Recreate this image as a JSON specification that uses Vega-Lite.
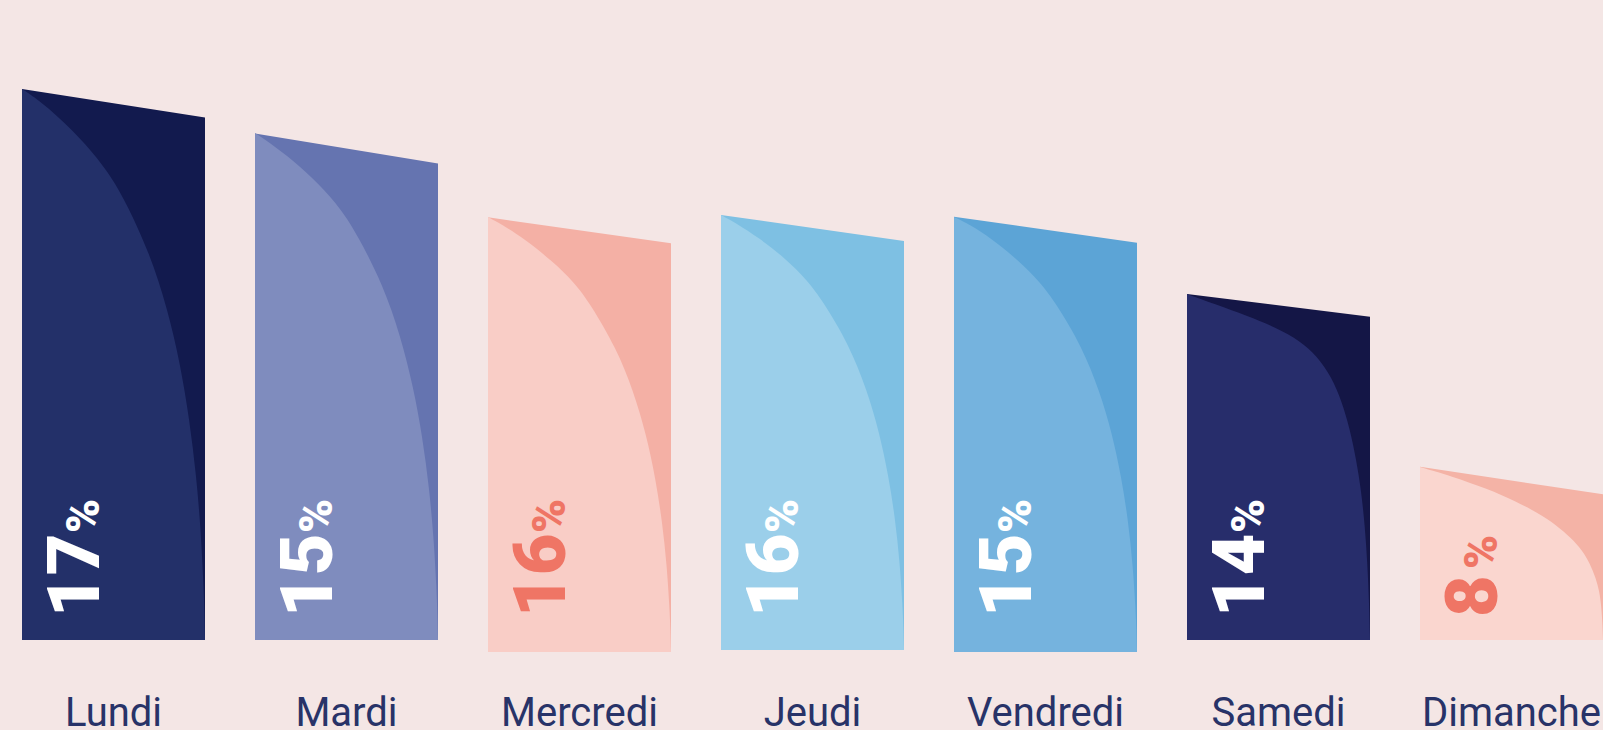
{
  "$schema": "https://vega.github.io/schema/vega-lite/v6.json",
  "background": "#f4e6e5",
  "padding": {"left": 22, "right": 0, "top": 0, "bottom": 0},
  "config": {"view": {"stroke": null}},
  "data": {"values": [
    {"day":"Lundi","part":"top","t":0,"h":551,"base":0},
    {"day":"Lundi","part":"top","t":1,"h":522.5,"base":0},
    {"day":"Mardi","part":"top","t":0,"h":506.6,"base":0},
    {"day":"Mardi","part":"top","t":1,"h":476.5,"base":0},
    {"day":"Mercredi","part":"top","t":0,"h":422.7,"base":-12},
    {"day":"Mercredi","part":"top","t":1,"h":396.7,"base":-12},
    {"day":"Jeudi","part":"top","t":0,"h":425,"base":-10},
    {"day":"Jeudi","part":"top","t":1,"h":399,"base":-10},
    {"day":"Vendredi","part":"top","t":0,"h":423.3,"base":-12},
    {"day":"Vendredi","part":"top","t":1,"h":397.3,"base":-12},
    {"day":"Samedi","part":"top","t":0,"h":346,"base":0},
    {"day":"Samedi","part":"top","t":1,"h":323.3,"base":0},
    {"day":"Dimanche","part":"top","t":0,"h":173.3,"base":0},
    {"day":"Dimanche","part":"top","t":1,"h":145.7,"base":0},

    {"day":"Lundi","part":"curve","t":0,"h":551,"base":0},
    {"day":"Lundi","part":"curve","t":0.09,"h":540,"base":0},
    {"day":"Lundi","part":"curve","t":0.2,"h":523,"base":0},
    {"day":"Lundi","part":"curve","t":0.35,"h":496,"base":0},
    {"day":"Lundi","part":"curve","t":0.47,"h":468,"base":0},
    {"day":"Lundi","part":"curve","t":0.56,"h":441,"base":0},
    {"day":"Lundi","part":"curve","t":0.7,"h":386,"base":0},
    {"day":"Lundi","part":"curve","t":0.795,"h":331,"base":0},
    {"day":"Lundi","part":"curve","t":0.865,"h":276,"base":0},
    {"day":"Lundi","part":"curve","t":0.915,"h":220,"base":0},
    {"day":"Lundi","part":"curve","t":0.952,"h":165,"base":0},
    {"day":"Lundi","part":"curve","t":0.977,"h":110,"base":0},
    {"day":"Lundi","part":"curve","t":0.992,"h":55,"base":0},
    {"day":"Lundi","part":"curve","t":0.997,"h":28,"base":0},
    {"day":"Lundi","part":"curve","t":1,"h":0,"base":0},

    {"day":"Mardi","part":"curve","t":0,"h":507,"base":0},
    {"day":"Mardi","part":"curve","t":0.09,"h":496,"base":0},
    {"day":"Mardi","part":"curve","t":0.2,"h":481,"base":0},
    {"day":"Mardi","part":"curve","t":0.35,"h":456,"base":0},
    {"day":"Mardi","part":"curve","t":0.47,"h":431,"base":0},
    {"day":"Mardi","part":"curve","t":0.56,"h":405,"base":0},
    {"day":"Mardi","part":"curve","t":0.7,"h":355,"base":0},
    {"day":"Mardi","part":"curve","t":0.795,"h":304,"base":0},
    {"day":"Mardi","part":"curve","t":0.865,"h":253,"base":0},
    {"day":"Mardi","part":"curve","t":0.915,"h":203,"base":0},
    {"day":"Mardi","part":"curve","t":0.952,"h":152,"base":0},
    {"day":"Mardi","part":"curve","t":0.977,"h":101,"base":0},
    {"day":"Mardi","part":"curve","t":0.992,"h":51,"base":0},
    {"day":"Mardi","part":"curve","t":0.997,"h":25,"base":0},
    {"day":"Mardi","part":"curve","t":1,"h":0,"base":0},

    {"day":"Mercredi","part":"curve","t":0,"h":423,"base":-12},
    {"day":"Mercredi","part":"curve","t":0.09,"h":414,"base":-12},
    {"day":"Mercredi","part":"curve","t":0.2,"h":401,"base":-12},
    {"day":"Mercredi","part":"curve","t":0.35,"h":379,"base":-12},
    {"day":"Mercredi","part":"curve","t":0.47,"h":358,"base":-12},
    {"day":"Mercredi","part":"curve","t":0.56,"h":336,"base":-12},
    {"day":"Mercredi","part":"curve","t":0.7,"h":292,"base":-12},
    {"day":"Mercredi","part":"curve","t":0.795,"h":249,"base":-12},
    {"day":"Mercredi","part":"curve","t":0.865,"h":205,"base":-12},
    {"day":"Mercredi","part":"curve","t":0.915,"h":162,"base":-12},
    {"day":"Mercredi","part":"curve","t":0.952,"h":118,"base":-12},
    {"day":"Mercredi","part":"curve","t":0.977,"h":75,"base":-12},
    {"day":"Mercredi","part":"curve","t":0.992,"h":32,"base":-12},
    {"day":"Mercredi","part":"curve","t":0.997,"h":10,"base":-12},
    {"day":"Mercredi","part":"curve","t":1,"h":-12,"base":-12},

    {"day":"Jeudi","part":"curve","t":0,"h":425,"base":-10},
    {"day":"Jeudi","part":"curve","t":0.09,"h":416,"base":-10},
    {"day":"Jeudi","part":"curve","t":0.2,"h":403,"base":-10},
    {"day":"Jeudi","part":"curve","t":0.35,"h":382,"base":-10},
    {"day":"Jeudi","part":"curve","t":0.47,"h":360,"base":-10},
    {"day":"Jeudi","part":"curve","t":0.56,"h":338,"base":-10},
    {"day":"Jeudi","part":"curve","t":0.7,"h":295,"base":-10},
    {"day":"Jeudi","part":"curve","t":0.795,"h":251,"base":-10},
    {"day":"Jeudi","part":"curve","t":0.865,"h":208,"base":-10},
    {"day":"Jeudi","part":"curve","t":0.915,"h":164,"base":-10},
    {"day":"Jeudi","part":"curve","t":0.952,"h":121,"base":-10},
    {"day":"Jeudi","part":"curve","t":0.977,"h":77,"base":-10},
    {"day":"Jeudi","part":"curve","t":0.992,"h":34,"base":-10},
    {"day":"Jeudi","part":"curve","t":0.997,"h":12,"base":-10},
    {"day":"Jeudi","part":"curve","t":1,"h":-10,"base":-10},

    {"day":"Vendredi","part":"curve","t":0,"h":423,"base":-12},
    {"day":"Vendredi","part":"curve","t":0.09,"h":415,"base":-12},
    {"day":"Vendredi","part":"curve","t":0.2,"h":402,"base":-12},
    {"day":"Vendredi","part":"curve","t":0.35,"h":380,"base":-12},
    {"day":"Vendredi","part":"curve","t":0.47,"h":358,"base":-12},
    {"day":"Vendredi","part":"curve","t":0.56,"h":336,"base":-12},
    {"day":"Vendredi","part":"curve","t":0.7,"h":293,"base":-12},
    {"day":"Vendredi","part":"curve","t":0.795,"h":249,"base":-12},
    {"day":"Vendredi","part":"curve","t":0.865,"h":206,"base":-12},
    {"day":"Vendredi","part":"curve","t":0.915,"h":162,"base":-12},
    {"day":"Vendredi","part":"curve","t":0.952,"h":119,"base":-12},
    {"day":"Vendredi","part":"curve","t":0.977,"h":75,"base":-12},
    {"day":"Vendredi","part":"curve","t":0.992,"h":32,"base":-12},
    {"day":"Vendredi","part":"curve","t":0.997,"h":10,"base":-12},
    {"day":"Vendredi","part":"curve","t":1,"h":-12,"base":-12},

    {"day":"Samedi","part":"curve","t":0,"h":346,"base":0},
    {"day":"Samedi","part":"curve","t":0.15,"h":336,"base":0},
    {"day":"Samedi","part":"curve","t":0.33,"h":324,"base":0},
    {"day":"Samedi","part":"curve","t":0.48,"h":313,"base":0},
    {"day":"Samedi","part":"curve","t":0.62,"h":299,"base":0},
    {"day":"Samedi","part":"curve","t":0.71,"h":284,"base":0},
    {"day":"Samedi","part":"curve","t":0.79,"h":263,"base":0},
    {"day":"Samedi","part":"curve","t":0.845,"h":239,"base":0},
    {"day":"Samedi","part":"curve","t":0.89,"h":211,"base":0},
    {"day":"Samedi","part":"curve","t":0.925,"h":180,"base":0},
    {"day":"Samedi","part":"curve","t":0.952,"h":149,"base":0},
    {"day":"Samedi","part":"curve","t":0.972,"h":114,"base":0},
    {"day":"Samedi","part":"curve","t":0.986,"h":76,"base":0},
    {"day":"Samedi","part":"curve","t":0.995,"h":38,"base":0},
    {"day":"Samedi","part":"curve","t":1,"h":0,"base":0},

    {"day":"Dimanche","part":"curve","t":0,"h":173,"base":0},
    {"day":"Dimanche","part":"curve","t":0.17,"h":164,"base":0},
    {"day":"Dimanche","part":"curve","t":0.37,"h":151,"base":0},
    {"day":"Dimanche","part":"curve","t":0.52,"h":139,"base":0},
    {"day":"Dimanche","part":"curve","t":0.645,"h":127,"base":0},
    {"day":"Dimanche","part":"curve","t":0.745,"h":115,"base":0},
    {"day":"Dimanche","part":"curve","t":0.825,"h":102,"base":0},
    {"day":"Dimanche","part":"curve","t":0.885,"h":90,"base":0},
    {"day":"Dimanche","part":"curve","t":0.93,"h":76,"base":0},
    {"day":"Dimanche","part":"curve","t":0.96,"h":62,"base":0},
    {"day":"Dimanche","part":"curve","t":0.98,"h":49,"base":0},
    {"day":"Dimanche","part":"curve","t":0.99,"h":35,"base":0},
    {"day":"Dimanche","part":"curve","t":0.997,"h":17,"base":0},
    {"day":"Dimanche","part":"curve","t":1,"h":0,"base":0},

    {"day":"Lundi","part":"label","value":17},
    {"day":"Mardi","part":"label","value":15},
    {"day":"Mercredi","part":"label","value":16},
    {"day":"Jeudi","part":"label","value":16},
    {"day":"Vendredi","part":"label","value":15},
    {"day":"Samedi","part":"label","value":14},
    {"day":"Dimanche","part":"label","value":8}
  ]},
  "facet": {
    "column": {
      "field": "day",
      "type": "nominal",
      "sort": ["Lundi","Mardi","Mercredi","Jeudi","Vendredi","Samedi","Dimanche"],
      "header": {"labels": false, "title": null},
      "title": null
    }
  },
  "spacing": {"column": 50},
  "spec": {
    "width": 183,
    "height": 730,
    "layer": [
      {
        "transform": [{"filter": "datum.part === 'top'"}],
        "mark": {"type": "area", "interpolate": "linear"},
        "encoding": {
          "x": {"field": "t", "type": "quantitative", "scale": {"domain": [0, 1], "nice": false, "zero": false}, "axis": null},
          "y": {"field": "h", "type": "quantitative", "stack": null, "scale": {"domain": [-90, 640], "nice": false, "zero": false}, "axis": null},
          "y2": {"field": "base"},
          "color": {"field": "day", "type": "nominal", "legend": null,
            "scale": {"domain": ["Lundi","Mardi","Mercredi","Jeudi","Vendredi","Samedi","Dimanche"],
                      "range": ["#121a4e","#6574b0","#f4b0a5","#7ec0e3","#5ca4d6","#141646","#f4b3a6"]}}
        }
      },
      {
        "transform": [{"filter": "datum.part === 'curve'"}],
        "mark": {"type": "area", "interpolate": "basis"},
        "encoding": {
          "x": {"field": "t", "type": "quantitative"},
          "y": {"field": "h", "type": "quantitative", "stack": null},
          "y2": {"field": "base"},
          "fill": {"field": "day", "type": "nominal", "legend": null,
            "scale": {"domain": ["Lundi","Mardi","Mercredi","Jeudi","Vendredi","Samedi","Dimanche"],
                      "range": ["#233069","#7f8cbe","#f9cdc6","#9bcfea","#75b3de","#272d6b","#fad6cf"]}}
        }
      },
      {
        "transform": [{"filter": "datum.part === 'label'"}],
        "mark": {"type": "text", "angle": 270, "align": "left", "baseline": "alphabetic", "font": "Roboto", "fontSize": 72, "fontWeight": 900},
        "encoding": {
          "x": {"datum": 0.42, "type": "quantitative"},
          "y": {"datum": 23, "type": "quantitative"},
          "text": {"field": "value", "type": "quantitative"},
          "color": {"condition": {"test": "datum.day === 'Mercredi' || datum.day === 'Dimanche'", "value": "#ef7565"}, "value": "#ffffff"}
        }
      },
      {
        "transform": [{"filter": "datum.part === 'label' && datum.value >= 10"}],
        "mark": {"type": "text", "angle": 270, "align": "left", "baseline": "alphabetic", "font": "Roboto", "fontSize": 46, "fontWeight": 900, "dx": 84},
        "encoding": {
          "x": {"datum": 0.42, "type": "quantitative"},
          "y": {"datum": 23, "type": "quantitative"},
          "text": {"value": "%"},
          "color": {"condition": {"test": "datum.day === 'Mercredi' || datum.day === 'Dimanche'", "value": "#ef7565"}, "value": "#ffffff"}
        }
      },
      {
        "transform": [{"filter": "datum.part === 'label' && datum.value < 10"}],
        "mark": {"type": "text", "angle": 270, "align": "left", "baseline": "alphabetic", "font": "Roboto", "fontSize": 46, "fontWeight": 900, "dx": 48},
        "encoding": {
          "x": {"datum": 0.42, "type": "quantitative"},
          "y": {"datum": 23, "type": "quantitative"},
          "text": {"value": "%"},
          "color": {"condition": {"test": "datum.day === 'Mercredi' || datum.day === 'Dimanche'", "value": "#ef7565"}, "value": "#ffffff"}
        }
      },
      {
        "transform": [{"filter": "datum.part === 'label'"}],
        "mark": {"type": "text", "align": "center", "baseline": "alphabetic", "font": "Roboto", "fontSize": 40, "color": "#283368"},
        "encoding": {
          "x": {"datum": 0.5, "type": "quantitative"},
          "y": {"datum": -86, "type": "quantitative"},
          "text": {"field": "day", "type": "nominal"}
        }
      }
    ]
  }
}
